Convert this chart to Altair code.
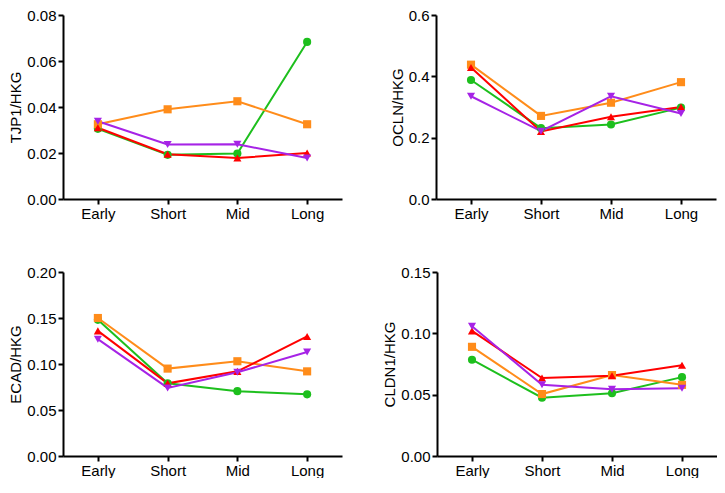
import altair as alt
import pandas as pd

times = ["Early", "Short", "Mid", "Long"]
series = ["A", "B", "C", "D"]
colors = ["#1DBF1D", "#FF8C1A", "#FF0000", "#A623E6"]
shapes = ["circle", "square", "triangle-up", "triangle-down"]

# TJP1/HKG
tjp1_A = [0.0305, 0.0192, 0.0198, 0.0683]
tjp1_B = [0.0325, 0.0390, 0.0425, 0.0325]
tjp1_C = [0.0310, 0.0195, 0.0178, 0.0200]
tjp1_D = [0.0338, 0.0237, 0.0238, 0.0178]

# OCLN/HKG
ocln_A = [0.388, 0.231, 0.243, 0.298]
ocln_B = [0.438, 0.271, 0.314, 0.381]
ocln_C = [0.429, 0.220, 0.268, 0.300]
ocln_D = [0.335, 0.221, 0.335, 0.279]

# ECAD/HKG
ecad_A = [0.148, 0.079, 0.0705, 0.067]
ecad_B = [0.150, 0.095, 0.103, 0.092]
ecad_C = [0.136, 0.079, 0.092, 0.130]
ecad_D = [0.127, 0.074, 0.091, 0.113]

# CLDN1/HKG
cldn_A = [0.0785, 0.0475, 0.0512, 0.0643]
cldn_B = [0.0890, 0.0505, 0.0660, 0.0580]
cldn_C = [0.1020, 0.0635, 0.0655, 0.0740]
cldn_D = [0.1058, 0.0580, 0.0545, 0.0552]

panels = [
    ("TJP1/HKG", [tjp1_A, tjp1_B, tjp1_C, tjp1_D], [0, 0.02, 0.04, 0.06, 0.08], ".2f"),
    ("OCLN/HKG", [ocln_A, ocln_B, ocln_C, ocln_D], [0, 0.2, 0.4, 0.6], ".1f"),
    ("ECAD/HKG", [ecad_A, ecad_B, ecad_C, ecad_D], [0, 0.05, 0.10, 0.15, 0.20], ".2f"),
    ("CLDN1/HKG", [cldn_A, cldn_B, cldn_C, cldn_D], [0, 0.05, 0.10, 0.15], ".2f"),
]

FONT = "Liberation Sans"


def make_panel(title, vals, ticks, fmt, width, height):
    rows = []
    for s, v in zip(series, vals):
        for t, y in zip(times, v):
            rows.append({"time": t, "series": s, "value": y})
    df = pd.DataFrame(rows)
    x = alt.X("time:N", sort=times, scale=alt.Scale(type="point", padding=0.5),
              axis=alt.Axis(title=None, labelAngle=0))
    y = alt.Y("value:Q", scale=alt.Scale(domain=[ticks[0], ticks[-1]], nice=False, zero=True),
              axis=alt.Axis(title=title, values=ticks, format=fmt))
    col = alt.Color("series:N", scale=alt.Scale(domain=series, range=colors), legend=None)
    base = alt.Chart(df)
    lines = base.mark_line(strokeWidth=2).encode(x=x, y=y, color=col, detail="series:N")
    pts = base.mark_point(filled=True, size=66, opacity=1).encode(
        x=x, y=y, color=col,
        shape=alt.Shape("series:N", scale=alt.Scale(domain=series, range=shapes), legend=None),
    )
    return (lines + pts).properties(width=width, height=height)


H = 184
p1 = make_panel(*panels[0], width=279, height=H)
p2 = make_panel(*panels[1], width=280, height=H)
p3 = make_panel(*panels[2], width=279, height=H)
p4 = make_panel(*panels[3], width=280, height=H)

row1 = alt.hconcat(p1, p2, spacing=48)
row2 = alt.hconcat(p3, p4, spacing=40)
chart = alt.vconcat(row1, row2, spacing=44).properties(padding=0).configure_view(
    stroke=None
).configure_axis(
    grid=False,
    domainColor="black",
    domainWidth=2,
    tickColor="black",
    tickWidth=2,
    tickSize=5,
    labelFont=FONT,
    labelFontSize=15,
    labelColor="black",
    labelPadding=2,
    titleFont=FONT,
    titleFontSize=15,
    titleFontWeight="normal",
    titleColor="black",
    titlePadding=3,
)

chart.save("out.html", embed_options={"renderer": "svg", "actions": False})
